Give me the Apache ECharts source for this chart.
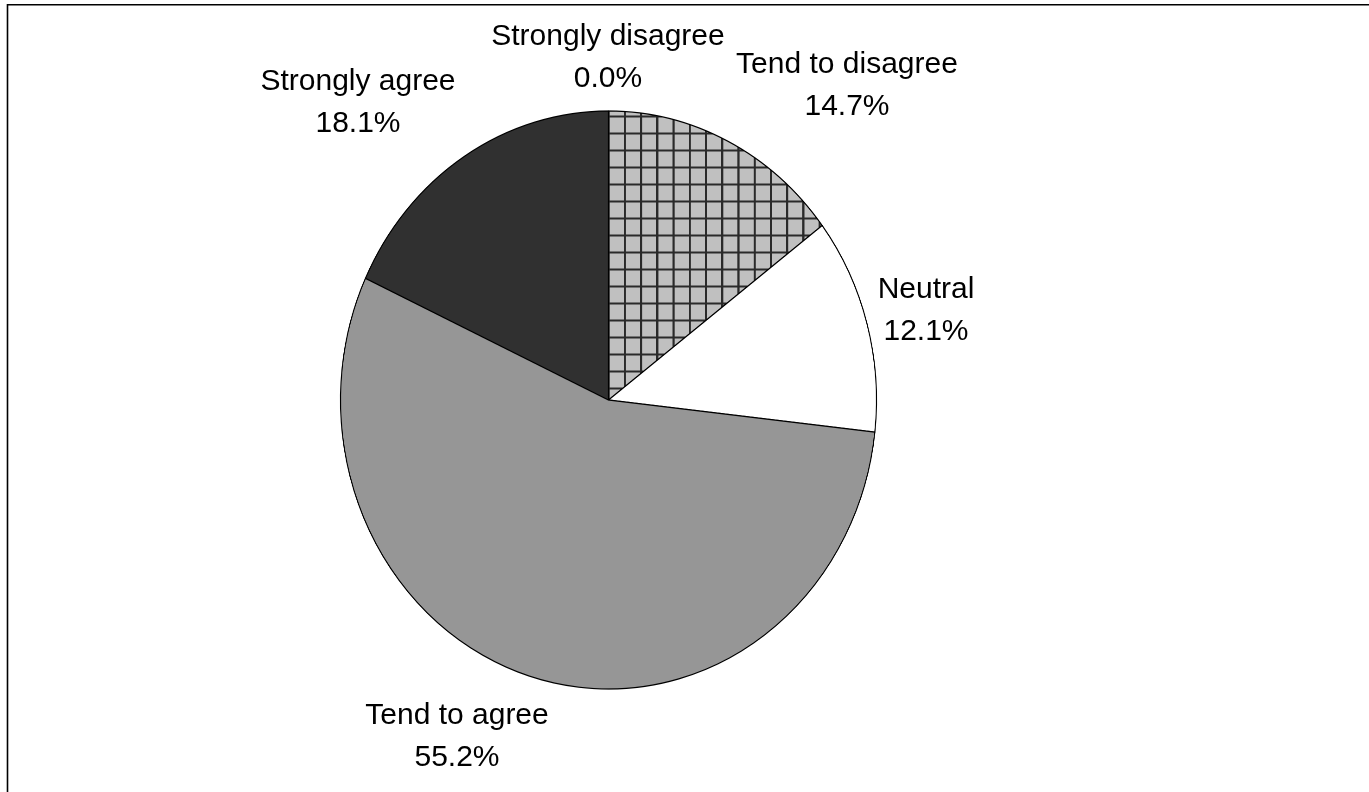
<!DOCTYPE html>
<html>
<head>
<meta charset="utf-8">
<title>Survey responses</title>
<script src="https://cdn.jsdelivr.net/npm/echarts@6/dist/echarts.min.js"></script>
<style>
  html, body { margin: 0; padding: 0; background: #fff; overflow: hidden; }
  #wrap { position: relative; width: 1369px; height: 792px; }
  #pie, #text { position: absolute; left: 0; top: 0; width: 1369px; height: 792px; }
  /* the pie is drawn as a slightly narrow ellipse: squeeze the slice layer horizontally */
  #pie { transform: scaleX(0.9273); transform-origin: 608.5px 400px; }
</style>
</head>
<body>
<div id="wrap">
  <div id="pie"></div>
  <div id="text"></div>
</div>
<script>
// Response categories, clockwise from 12 o'clock
const categories = ['Strongly disagree', 'Tend to disagree', 'Neutral', 'Tend to agree', 'Strongly agree'];
// Share of responses, percent
const shares = [0.0, 14.7, 12.1, 55.2, 18.1];

// Layout constants
const CENTER = [608.5, 400];
const RADIUS = 289;
const LABEL_POS = [[608, 58], [847, 86], [926, 311], [457, 737], [358, 103]];
const FONT = 'Liberation Sans, Arial, sans-serif';

// Cross-hatch fill: light grey cells with dark grid lines
function crossHatch() {
  const c = document.createElement('canvas');
  c.width = 35; c.height = 34;
  const g = c.getContext('2d');
  g.fillStyle = '#c0c0c0';
  g.fillRect(0, 0, 35, 34);
  g.fillStyle = '#2a2a2a';
  g.fillRect(0, 0, 4.6, 34);
  g.fillRect(0, 0, 35, 4);
  return c;
}

const fills = [
  '#ffffff',
  { image: crossHatch(), repeat: 'repeat', scaleX: 0.5, scaleY: 0.5, x: 12.5, y: 13.5 },
  '#ffffff',
  '#969696',
  '#303030'
];

const sliceData = categories.map((name, i) => ({
  name: name,
  value: shares[i],
  itemStyle: { color: fills[i] }
}));

// Slice layer
const pieChart = echarts.init(document.getElementById('pie'), null, { devicePixelRatio: 2 });
pieChart.setOption({
  animation: false,
  backgroundColor: '#ffffff',
  series: [{
    type: 'pie',
    center: CENTER,
    radius: [0, RADIUS],
    startAngle: 90,
    clockwise: true,
    avoidLabelOverlap: false,
    silent: true,
    label: { show: false },
    labelLine: { show: false },
    itemStyle: { borderColor: '#000000', borderWidth: 1.2 },
    emphasis: { disabled: true },
    data: sliceData
  }]
});

// Label and frame layer
const textChart = echarts.init(document.getElementById('text'));
textChart.setOption({
  animation: false,
  backgroundColor: 'transparent',
  graphic: [{
    type: 'rect',
    silent: true,
    shape: { x: 7.5, y: 4.7, width: 1420, height: 900 },
    style: { fill: 'none', stroke: '#000000', lineWidth: 1.6 }
  }],
  series: [{
    type: 'pie',
    center: CENTER,
    radius: [0, RADIUS],
    startAngle: 90,
    clockwise: true,
    avoidLabelOverlap: false,
    silent: true,
    itemStyle: { color: 'rgba(0,0,0,0)', borderWidth: 0 },
    emphasis: { disabled: true },
    labelLine: { show: false },
    label: {
      show: true,
      position: 'outside',
      fontFamily: FONT,
      fontSize: 30,
      lineHeight: 42,
      color: '#000000',
      formatter: p => p.name + '\n' + p.value.toFixed(1) + '%'
    },
    labelLayout: p => ({
      x: LABEL_POS[p.dataIndex][0],
      y: LABEL_POS[p.dataIndex][1],
      align: 'center',
      verticalAlign: 'middle'
    }),
    data: categories.map((name, i) => ({ name: name, value: shares[i] }))
  }]
});
</script>
</body>
</html>
